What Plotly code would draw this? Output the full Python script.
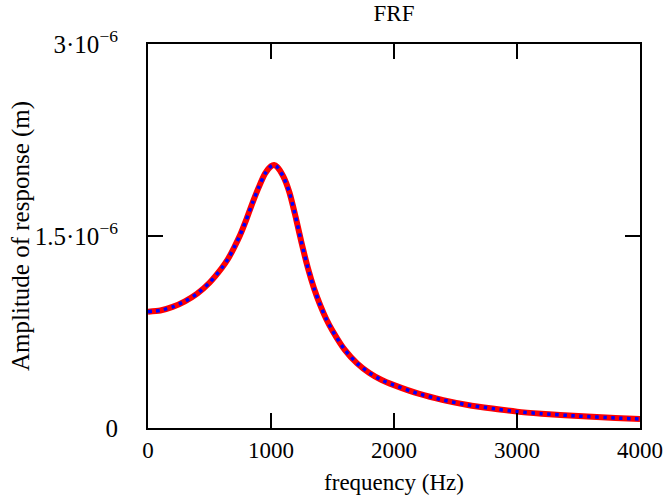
import plotly.graph_objects as go

freq_hz = [0, 100, 200, 300, 400, 500, 600, 650, 700, 750, 800, 850, 900, 950,
           1000, 1025, 1050, 1100, 1150, 1200, 1250, 1300, 1350, 1400, 1450,
           1500, 1600, 1700, 1800, 1900, 2000, 2200, 2400, 2600, 2800, 3000,
           3200, 3500, 3800, 4000]
amp_micro_m = [0.909, 0.918, 0.946, 0.99, 1.05, 1.135, 1.25, 1.32, 1.41, 1.51,
               1.63, 1.76, 1.88, 1.985, 2.045, 2.055, 2.04, 1.965, 1.84, 1.65,
               1.44, 1.25, 1.09, 0.96, 0.85, 0.76, 0.61, 0.505, 0.43, 0.375,
               0.335, 0.268, 0.218, 0.18, 0.152, 0.128, 0.112, 0.093, 0.078,
               0.070]
amplitude = [a * 1e-6 for a in amp_micro_m]

y_tickvals = [0, 1.5e-6, 3e-6]
y_ticktext = ["0", "1.5·10<sup>\u22126</sup>", "3·10<sup>\u22126</sup>"]
x_tickvals = [0, 1000, 2000, 3000, 4000]

FAM = "Liberation Serif"


def f(size):
    return dict(family=FAM, size=size, color="black")


L, R, T, B = 148, 640, 44, 428
fig = go.Figure()
fig.add_trace(go.Scatter(x=freq_hz, y=amplitude, mode="lines",
                         line=dict(color="#ff0000", width=6, shape="spline", smoothing=0.6),
                         showlegend=False, hoverinfo="skip"))
fig.add_trace(go.Scatter(x=freq_hz, y=amplitude, mode="lines",
                         line=dict(color="#0000ff", width=3.5, shape="spline", smoothing=0.6,
                                   dash="3.5px,4.5px"),
                         showlegend=False, hoverinfo="skip"))

fig.update_layout(
    width=670, height=499,
    margin=dict(l=L, r=670 - R, t=T, b=499 - B, autoexpand=False),
    paper_bgcolor="white", plot_bgcolor="white",
    font=f(23),
    title=dict(text="FRF", x=(L + R) / 2 / 670, xanchor="center",
               y=1 - 13 / 499, yanchor="middle", font=f(23)),
    xaxis=dict(range=[0, 4000], tickvals=x_tickvals, ticks="inside", ticklen=15,
               tickwidth=2, tickcolor="black", showline=True, linecolor="black",
               linewidth=2, mirror="ticks", showgrid=False, zeroline=False,
               tickfont=f(23), automargin=False,
               title=dict(text="frequency (Hz)", standoff=12, font=f(23)),
               ticklabelstandoff=0),
    yaxis=dict(range=[0, 3e-6], tickvals=y_tickvals, ticktext=y_ticktext,
               ticks="inside", ticklen=15, tickwidth=2, tickcolor="black",
               showline=True, linecolor="black", linewidth=2, mirror="ticks",
               showgrid=False, zeroline=False, automargin=False,
               tickfont=f(25),
               ticklabelstandoff=23),
    annotations=[dict(text="Amplitude of response (m)", textangle=-90,
                      xref="paper", yref="paper",
                      x=(21 - L) / (R - L), y=0.5, xanchor="center", yanchor="middle",
                      showarrow=False, font=f(25))],
)

fig.write_html("out.html")
